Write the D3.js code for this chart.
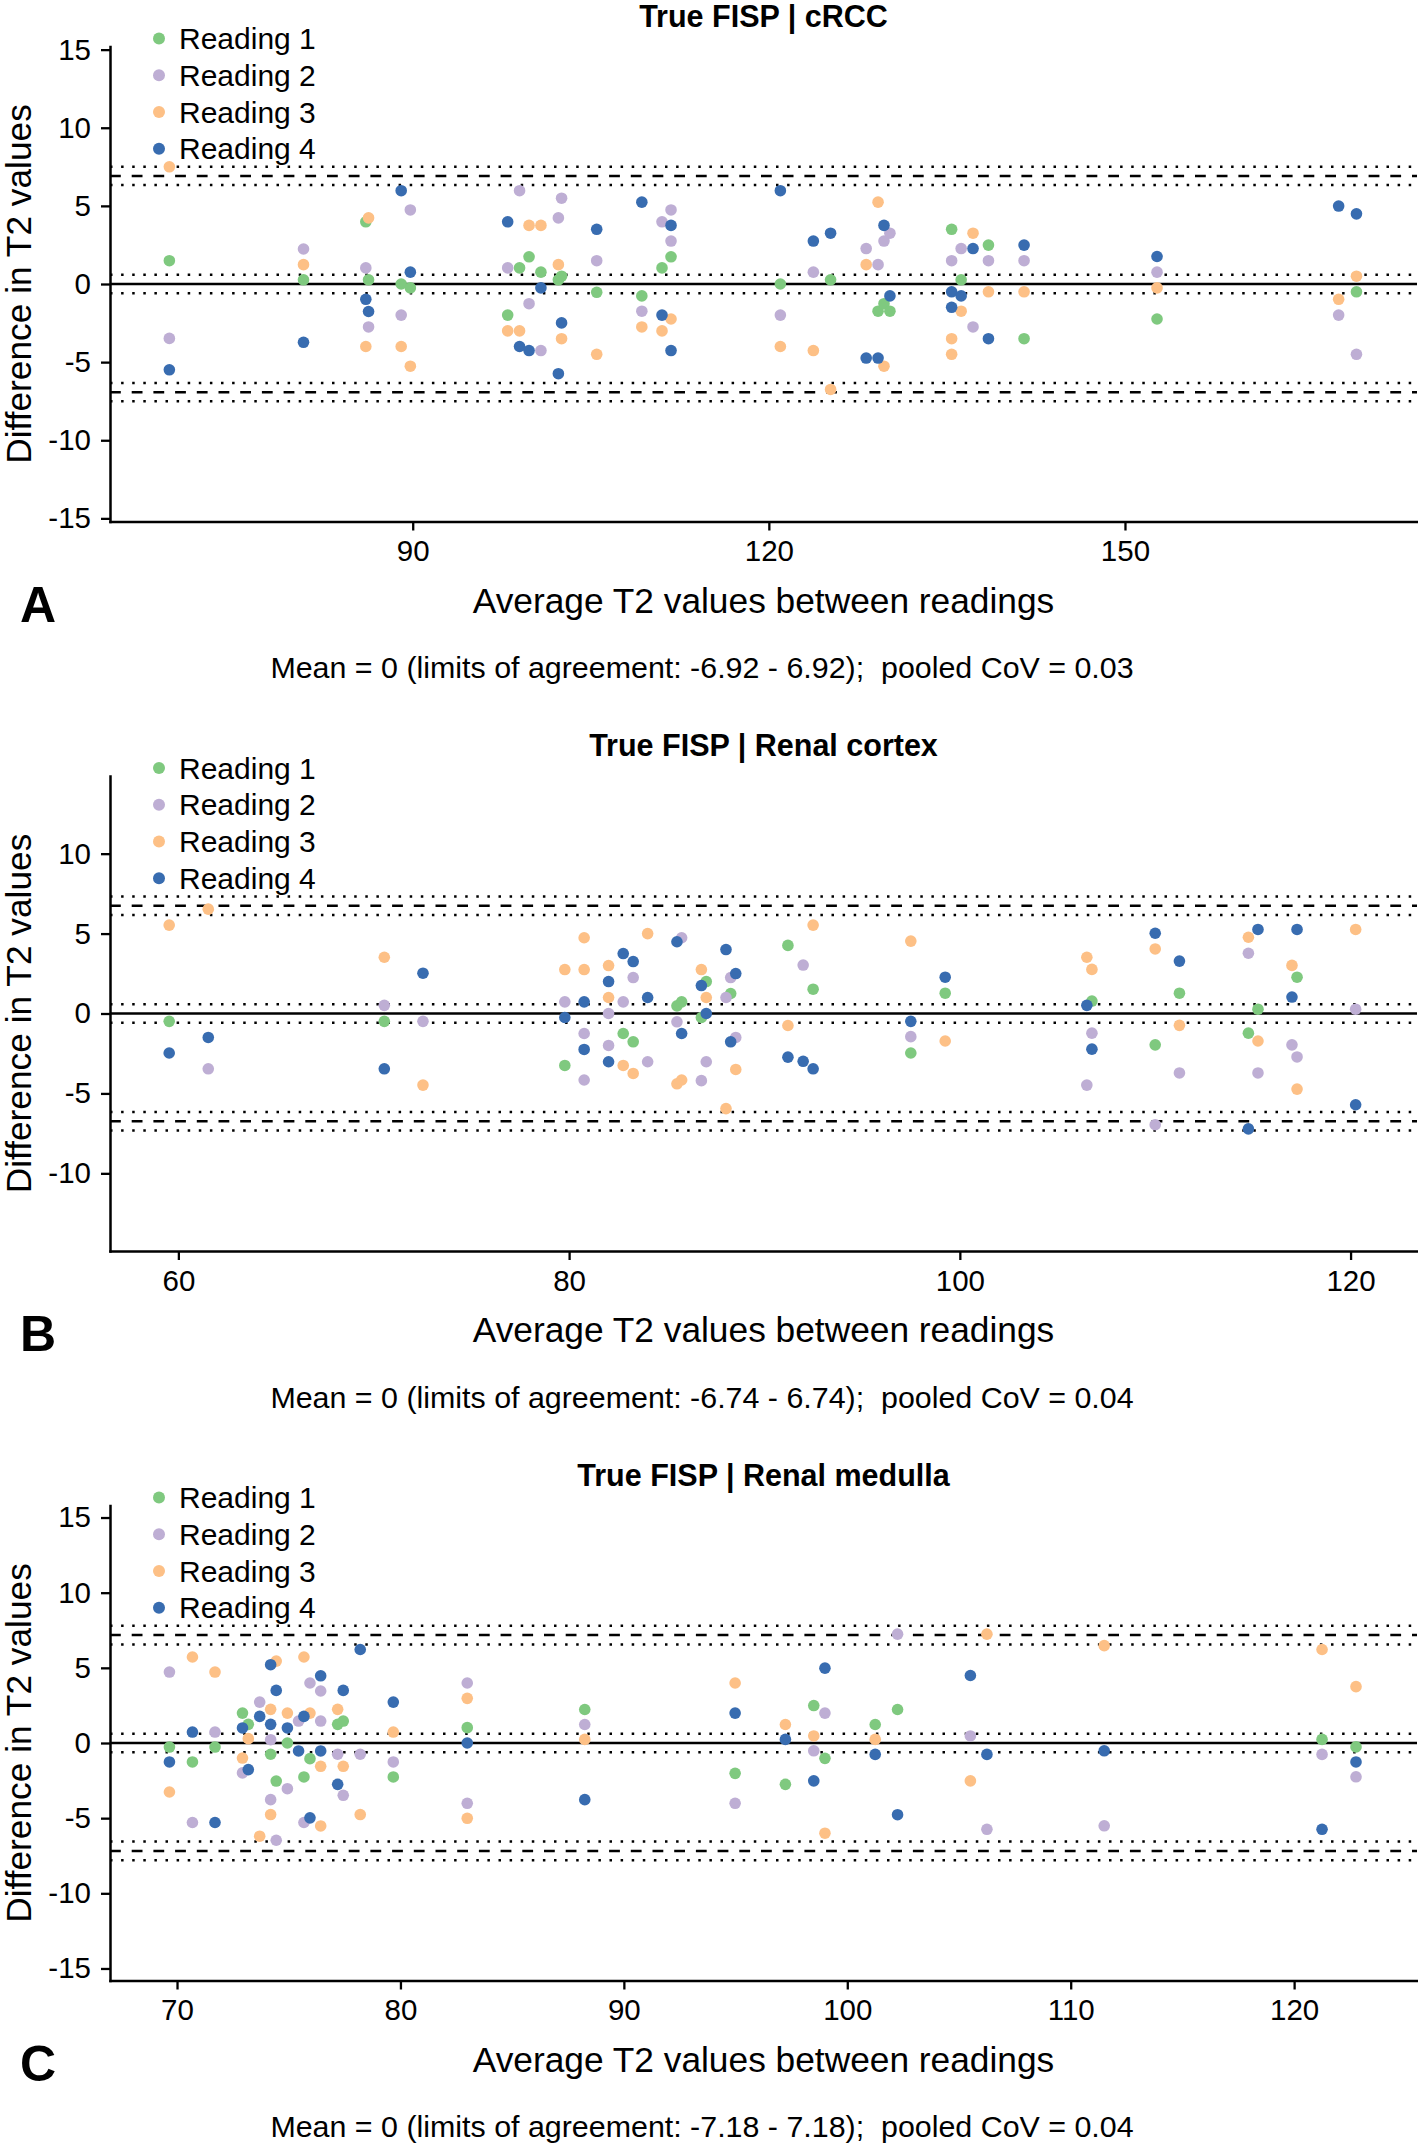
<!DOCTYPE html>
<html>
<head>
<meta charset="utf-8">
<script src="https://cdn.jsdelivr.net/npm/d3@7"></script>
<style>
  body { margin: 0; background: #fff; }
  text { font-family: "Liberation Sans", Arial, Helvetica, sans-serif; }
</style>
</head>
<body>
<svg id="chart" width="1418" height="2147"></svg>
<script>
// legend
const readingNames = ["Reading 1", "Reading 2", "Reading 3", "Reading 4"];

// panel A: cRCC  [average, difference]
const crccReading1 = [[69.5,1.49],[80.8,0.27],[86.05,3.98],[86.28,0.27],[89.03,0],[89.8,-0.25],[98.0,-1.99],[99.0,1.03],[99.8,1.74],[100.8,0.76],[102.27,0.27],[102.54,0.5],[105.5,-0.53],[109.3,-0.76],[111.0,1.03],[111.76,1.74],[120.97,0],[125.2,0.27],[129.2,-1.74],[129.7,-1.26],[130.2,-1.74],[135.4,3.5],[136.2,0.27],[138.5,2.49],[141.5,-3.5],[152.7,-2.24],[169.5,-0.5]];
const crccReading2 = [[69.5,-3.48],[80.8,2.24],[86.05,1.03],[86.28,-2.75],[89.03,-1.99],[89.8,4.74],[98.0,1.03],[99.0,5.97],[99.8,-1.26],[100.8,-4.26],[102.27,4.23],[102.54,5.49],[105.5,1.49],[109.3,-1.74],[111.0,3.98],[111.76,4.74],[111.76,2.75],[120.97,-1.99],[123.75,0.76],[128.2,2.27],[129.2,1.24],[129.7,2.75],[130.2,3.25],[135.4,1.49],[136.2,2.27],[137.2,-2.75],[138.5,1.49],[141.5,1.49],[152.7,0.76],[168.0,-1.99],[169.5,-4.5]];
const crccReading3 = [[69.5,7.5],[80.8,1.24],[86.05,-4.0],[86.28,4.23],[89.03,-4.0],[89.8,-5.26],[98.0,-3.0],[99.0,-3.0],[99.8,3.75],[100.8,3.75],[102.27,1.24],[102.54,-3.5],[105.5,-4.5],[109.3,-2.75],[111.0,-3.0],[111.76,-2.24],[120.97,-4.0],[123.75,-4.26],[125.2,-6.75],[128.2,1.24],[129.2,5.24],[129.7,-5.26],[135.4,-3.5],[135.4,-4.5],[136.2,-1.74],[137.2,3.25],[138.5,-0.5],[141.5,-0.5],[152.7,-0.25],[168.0,-0.98],[169.5,0.5]];
const crccReading4 = [[69.5,-5.49],[80.8,-3.73],[86.05,-0.98],[86.28,-1.76],[89.03,5.97],[89.8,0.76],[98.0,3.98],[99.0,-4.0],[99.8,-4.26],[100.8,-0.25],[102.27,-5.74],[102.54,-2.49],[105.5,3.5],[109.3,5.24],[111.0,-1.99],[111.76,3.75],[111.76,-4.26],[120.97,5.97],[123.75,2.75],[125.2,3.25],[128.2,-4.74],[129.2,-4.74],[129.7,3.75],[130.2,-0.76],[135.4,-0.5],[135.4,-1.49],[136.2,-0.76],[137.2,2.27],[138.5,-3.5],[141.5,2.49],[152.7,1.76],[168.0,4.99],[169.5,4.49]];

// panel B: renal cortex
const cortexReading1 = [[59.53,-0.49],[70.54,-0.49],[79.78,-3.25],[82.77,-1.25],[83.28,-1.77],[85.52,0.48],[85.76,0.73],[86.77,-0.25],[87.02,2.0],[88.27,1.25],[91.2,4.26],[92.49,1.52],[97.49,-2.47],[99.25,1.27],[106.76,0.78],[110.0,-1.96],[111.24,1.27],[114.77,-1.23],[115.26,0.27],[117.26,2.27]];
const cortexReading2 = [[61.53,-3.46],[70.54,0.51],[72.52,-0.49],[79.78,0.73],[80.77,-1.25],[80.77,-4.16],[82.02,0],[82.02,-2.0],[82.77,0.73],[83.28,2.25],[84.02,-3.02],[85.52,-0.52],[85.76,4.74],[86.77,-4.2],[87.02,-3.02],[88.03,1.0],[88.27,2.25],[88.53,-1.5],[91.98,3.03],[97.49,-1.45],[106.5,-4.48],[106.76,-1.23],[110.0,-6.96],[111.24,-3.72],[114.77,3.77],[115.26,-3.72],[117.0,-1.96],[117.26,-2.72],[120.26,0.27]];
const cortexReading3 = [[59.53,5.53],[61.53,6.53],[70.54,3.52],[72.52,-4.48],[79.78,2.75],[80.77,4.74],[80.77,2.75],[82.02,3.0],[82.02,1.0],[82.77,-3.25],[83.28,-3.75],[84.02,5.0],[85.52,-4.4],[85.76,-4.16],[86.77,2.75],[87.02,1.0],[88.03,-5.95],[88.53,-3.5],[91.2,-0.75],[92.49,5.53],[97.49,4.53],[99.25,-1.72],[106.5,3.52],[106.76,2.76],[110.0,4.04],[111.24,-0.74],[114.77,4.77],[115.26,-1.72],[117.0,3.01],[117.26,-4.73],[120.26,5.26]];
const cortexReading4 = [[59.53,-2.47],[61.53,-1.5],[70.54,-3.46],[72.52,2.52],[79.78,-0.25],[80.77,0.73],[80.77,-2.25],[82.02,2.0],[82.02,-3.02],[82.77,3.75],[83.28,3.25],[84.02,1.0],[85.52,4.49],[85.76,-1.25],[86.77,1.75],[87.02,0],[88.03,4.0],[88.27,-1.77],[88.53,2.5],[91.2,-2.73],[91.98,-2.99],[92.49,-3.46],[97.49,-0.49],[99.25,2.27],[106.5,0.51],[106.76,-2.23],[110.0,5.02],[111.24,3.28],[114.77,-7.22],[115.26,5.26],[117.0,1.03],[117.26,5.26],[120.26,-5.71]];

// panel C: renal medulla
const medullaReading1 = [[69.66,-0.27],[70.69,-1.26],[71.7,-0.27],[72.93,1.99],[73.19,1.24],[74.19,-0.75],[74.44,-2.53],[74.94,0],[75.68,-2.26],[75.95,-1.04],[77.19,1.24],[77.44,1.46],[79.68,-2.26],[82.99,1.02],[88.25,2.23],[94.98,-2.02],[97.23,-2.75],[98.5,2.49],[99.0,-1.02],[101.25,1.23],[102.25,2.23],[121.25,0.24],[122.77,-0.26]];
const medullaReading2 = [[69.66,4.72],[70.69,-5.29],[71.7,0.73],[72.93,-1.99],[73.7,2.72],[74.19,0.22],[74.19,-3.77],[74.44,-6.47],[74.94,-3.04],[75.44,1.46],[75.68,-5.29],[75.95,3.99],[76.43,3.46],[76.43,1.46],[77.19,-0.75],[77.44,-3.48],[78.2,-0.75],[79.68,-1.26],[82.99,3.99],[82.99,-4.01],[88.25,1.23],[94.98,-4.01],[98.5,-0.52],[99.0,1.99],[102.25,7.24],[105.51,0.47],[106.25,-5.74],[111.5,-5.51],[121.25,-0.76],[122.77,-2.25]];
const medullaReading3 = [[69.66,-3.26],[70.69,5.72],[71.7,4.72],[72.93,-1.0],[73.19,0.29],[73.7,-6.2],[74.19,2.24],[74.19,-4.76],[74.44,5.45],[74.94,1.99],[75.68,5.72],[75.95,1.99],[76.43,-1.55],[76.43,-5.52],[77.19,2.24],[77.44,-1.55],[78.2,-4.76],[79.68,0.73],[82.99,2.97],[82.99,-5.01],[88.25,0.24],[94.98,3.99],[97.23,1.23],[98.5,0.47],[99.0,-6.0],[101.25,0.24],[105.51,-2.52],[106.25,7.24],[111.5,6.48],[121.25,6.22],[122.77,3.75]];
const medullaReading4 = [[69.66,-1.26],[70.69,0.73],[71.7,-5.29],[72.93,1.0],[73.19,-1.77],[73.7,1.77],[74.19,5.21],[74.19,1.24],[74.44,3.5],[74.94,1.0],[75.44,-0.53],[75.68,1.77],[75.95,-4.98],[76.43,4.47],[76.43,-0.53],[77.19,-2.75],[77.44,3.5],[78.2,6.22],[79.68,2.72],[82.99,0],[88.25,-3.77],[94.98,1.99],[97.23,0.24],[98.5,-2.52],[99.0,4.98],[101.25,-0.76],[102.25,-4.77],[105.51,4.49],[106.25,-0.76],[111.5,-0.52],[121.25,-5.74],[122.77,-1.26]];

// tick labels
const crccXTicks = [90, 120, 150];
const cortexXTicks = [60, 80, 100, 120];
const medullaXTicks = [70, 80, 90, 100, 110, 120];
const wideYTicks = [-15, -10, -5, 0, 5, 10, 15];
const narrowYTicks = [-10, -5, 0, 5, 10];

// summary stats: limits of agreement, CI half width, pooled CoV
const loaValues = [6.92, 6.74, 7.18];
const ciHalfWidths = [0.59, 0.58, 0.62];
const covValues = ["0.03", "0.04", "0.04"];

const colors = ["#7fc97f", "#beaed4", "#fdc086", "#386cb0"];

const panels = [
    { title: "True FISP | cRCC", letter: "A",
      series: [crccReading1, crccReading2, crccReading3, crccReading4],
      xDomain: [64.5, 174.6], yDomain: [-15.2, 15.2],
      xTicks: crccXTicks, yTicks: wideYTicks },
    { title: "True FISP | Renal cortex", letter: "B",
      series: [cortexReading1, cortexReading2, cortexReading3, cortexReading4],
      xDomain: [56.5, 123.4], yDomain: [-14.86, 14.86],
      xTicks: cortexXTicks, yTicks: narrowYTicks },
    { title: "True FISP | Renal medulla", letter: "C",
      series: [medullaReading1, medullaReading2, medullaReading3, medullaReading4],
      xDomain: [67.0, 125.5], yDomain: [-15.8, 15.8],
      xTicks: medullaXTicks, yTicks: wideYTicks }
];

const svg = d3.select('#chart');
const panelStep = 729.5;
const plotLeft = 110, plotRight = 1417, plotTop = 46.5, plotBottom = 521.5;

panels.forEach((p, i) => {
    const g = svg.append('g')
        .attr('transform', 'translate(0,' + (i * panelStep) + ')');

    const x = d3.scaleLinear().domain(p.xDomain).range([plotLeft, plotRight]);
    const y = d3.scaleLinear().domain(p.yDomain).range([plotBottom, plotTop]);

    const loa = loaValues[i], ci = ciHalfWidths[i];

    // reference lines: mean, limits of agreement and their CIs
    const dotted = '2.5 8.6', dashed = '10.8 10.9';
    const refLines = [
        { v: 0, dash: null },
        { v: ci, dash: dotted }, { v: -ci, dash: dotted },
        { v: loa, dash: dashed }, { v: -loa, dash: dashed },
        { v: loa + ci, dash: dotted }, { v: loa - ci, dash: dotted },
        { v: -loa + ci, dash: dotted }, { v: -loa - ci, dash: dotted }
    ];
    g.append('g').selectAll('line')
        .data(refLines)
        .join('line')
        .attr('x1', plotLeft).attr('x2', plotRight)
        .attr('y1', d => y(d.v)).attr('y2', d => y(d.v))
        .attr('stroke', '#000')
        .attr('stroke-width', 2.5)
        .attr('stroke-dasharray', d => d.dash);

    // points
    p.series.forEach((pts, k) => {
        g.append('g').selectAll('circle')
            .data(pts)
            .join('circle')
            .attr('cx', d => x(d[0]))
            .attr('cy', d => y(d[1]))
            .attr('r', 5.8)
            .attr('fill', colors[k]);
    });

    // axes
    const xAxis = g.append('g')
        .attr('transform', 'translate(0,' + plotBottom + ')')
        .call(d3.axisBottom(x).tickValues(p.xTicks).tickFormat(d => String(d))
            .tickSize(9).tickSizeOuter(0).tickPadding(10));
    const yAxis = g.append('g')
        .attr('transform', 'translate(' + plotLeft + ',0)')
        .call(d3.axisLeft(y).tickValues(p.yTicks).tickFormat(d => String(d))
            .tickSize(9).tickSizeOuter(0).tickPadding(10));
    [xAxis, yAxis].forEach(a => {
        a.attr('font-family', null).attr('font-size', null);
        a.select('.domain').attr('stroke-width', 2.5).attr('stroke-linecap', 'square');
        a.selectAll('.tick line').attr('stroke-width', 2.3);
        a.selectAll('.tick text').attr('font-size', 29.5).attr('fill', '#000');
    });

    // titles
    g.append('text')
        .attr('x', (plotLeft + plotRight) / 2).attr('y', 26.5)
        .attr('text-anchor', 'middle')
        .attr('font-size', 30.5).attr('font-weight', 'bold')
        .text(p.title);
    g.append('text')
        .attr('x', (plotLeft + plotRight) / 2).attr('y', 612.5)
        .attr('text-anchor', 'middle')
        .attr('font-size', 35.3)
        .text('Average T2 values between readings');
    g.append('text')
        .attr('transform', 'translate(31,' + ((plotTop + plotBottom) / 2) + ') rotate(-90)')
        .attr('text-anchor', 'middle')
        .attr('font-size', 35.3)
        .text('Difference in T2 values');
    g.append('text')
        .attr('x', 20).attr('y', 621.5)
        .attr('font-size', 50).attr('font-weight', 'bold')
        .text(p.letter);
    g.append('text')
        .attr('x', 702).attr('y', 678)
        .attr('text-anchor', 'middle')
        .attr('font-size', 30.4)
        .style('white-space', 'pre')
        .text('Mean = 0 (limits of agreement: -' + loa + ' - ' + loa + ');  pooled CoV = ' + covValues[i]);

    // legend
    const legend = g.append('g').selectAll('g')
        .data(readingNames)
        .join('g')
        .attr('transform', (d, k) => 'translate(159,' + (38.6 + k * 36.7) + ')');
    legend.append('circle')
        .attr('r', 6)
        .attr('fill', (d, k) => colors[k]);
    legend.append('text')
        .attr('x', 20).attr('dy', '0.35em')
        .attr('font-size', 30)
        .text(d => d);
});
</script>
</body>
</html>
